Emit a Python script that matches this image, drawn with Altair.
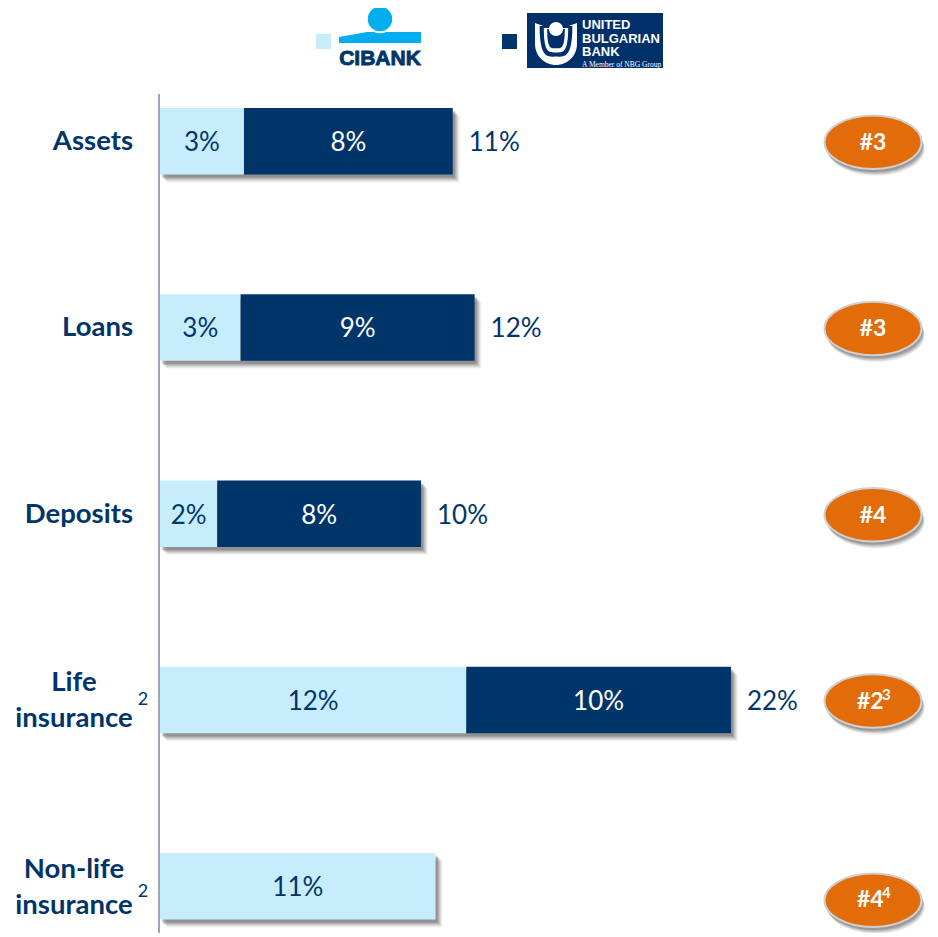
import altair as alt
import pandas as pd

categories = ["Assets", "Loans", "Deposits", "Life insurance", "Non-life insurance"]
cibank_values = [3.23, 3.1, 2.2, 11.78, 10.6]
ubb_values = [8.03, 9.0, 7.84, 10.18, 0.0]
cibank_labels = ["3%", "3%", "2%", "12%", "11%"]
ubb_labels = ["8%", "9%", "8%", "10%", ""]
total_labels = ["11%", "12%", "10%", "22%", ""]
ranks = ["#3", "#3", "#4", "#2", "#4"]
rank_notes = ["", "", "", "3", "4"]

LIGHT = "#C7EDFD"
DARK = "#00356A"
NAVY = "#00306A"
ORANGE = "#E36C0A"
SKY = "#00AEEF"
FONT = "Lato"

W, H = 922, 925
df = pd.DataFrame({
    "cat": categories,
    "a": cibank_values,
    "b": ubb_values,
    "la": cibank_labels,
    "lb": ubb_labels,
    "lt": total_labels,
    "rank": ranks,
    "note": rank_notes,
})
df["end"] = df["a"] + df["b"]
df["zero"] = 0.0
df["ma"] = df["a"] / 2
df["mb"] = df["a"] + df["b"] / 2
two = df[df["b"] > 0]

x_domain = [-152 / 26, (W - 152) / 26]


def x_scale(shift=0):
    return alt.Scale(domain=x_domain, range=[shift, W + shift], nice=False, zero=False)


def y_scale(shift=0):
    return alt.Scale(
        type="band", domain=categories, range=[100 + shift, 911.5 + shift],
        paddingInner=0.643, paddingOuter=0,
    )


X = lambda f, s=0: alt.X(f, type="quantitative", scale=x_scale(s), axis=None)
Y = alt.Y("cat:N", scale=y_scale(), axis=None, sort=categories)
one = pd.DataFrame({"k": [0]})


def deco(**mark):
    return alt.Chart(one).mark_point(filled=True, opacity=1, **mark)


def cup(w, t, b):
    return (
        f"M{-w},{t} C{-w},{b + 0.1} {-w * 0.5},{b} 0,{b} "
        f"C{w * 0.5},{b} {w},{b + 0.1} {w},{t} Z"
    )


layers = []
# bar shadows: same data, scales shifted a few pixels
for off, op in [(8, 0.06), (7, 0.09), (6, 0.12), (5, 0.16), (4, 0.2), (3, 0.26)]:
    layers.append(
        alt.Chart(df).mark_bar(color="#505050", opacity=op).encode(
            x=X("zero", off - 1), x2=alt.X2("end"),
            y=alt.Y("cat:N", scale=y_scale(off), axis=None, sort=categories),
        )
    )
layers += [
    alt.Chart(df).mark_bar(color=LIGHT).encode(x=X("zero"), x2=alt.X2("a"), y=Y),
    alt.Chart(two).mark_bar(color=DARK).encode(x=X("a"), x2=alt.X2("end"), y=Y),
    alt.Chart(df).mark_text(color=DARK, font=FONT, fontSize=26, dy=2).encode(x=X("ma"), y=Y, text="la:N"),
    alt.Chart(two).mark_text(color="white", font=FONT, fontSize=26, dy=2).encode(x=X("mb"), y=Y, text="lb:N"),
    alt.Chart(two).mark_text(color=DARK, font=FONT, fontSize=26, align="left", dx=16, dy=2).encode(
        x=X("end"), y=Y, text="lt:N"
    ),
]

# vertical axis line
layers.append(
    alt.Chart(one).mark_rule(color="#A3A3AD", strokeWidth=2).encode(
        x=alt.value(151), y=alt.value(86), y2=alt.value(925)
    )
)

# category labels
single = df.iloc[:3]
double = df.iloc[3:].assign(t=["Life\ninsurance", "Non-life\ninsurance"], s="2")
layers += [
    alt.Chart(single).mark_text(
        color=DARK, font=FONT, fontWeight="bold", fontSize=27.5, align="right", dy=1
    ).encode(x=alt.value(125), y=Y, text="cat:N"),
    alt.Chart(double.iloc[:1]).mark_text(
        color=DARK, font=FONT, fontWeight="bold", fontSize=27.5, align="center",
        lineBreak="\n", lineHeight=36, dy=-17
    ).encode(x=alt.value(66), y=Y, text="t:N"),
    alt.Chart(double.iloc[1:]).mark_text(
        color=DARK, font=FONT, fontWeight="bold", fontSize=27.5, align="center",
        lineBreak="\n", lineHeight=36, dy=-16
    ).encode(x=alt.value(66), y=Y, text="t:N"),
    alt.Chart(double.iloc[:1]).mark_text(color=DARK, font=FONT, fontSize=18).encode(
        x=alt.value(135), y=Y, text="s:N"
    ),
    alt.Chart(double.iloc[1:]).mark_text(color=DARK, font=FONT, fontSize=18, dy=6).encode(
        x=alt.value(135), y=Y, text="s:N"
    ),
]

# rank ovals
OVAL = "M-1,0 A1,0.55 0 1,1 1,0 A1,0.55 0 1,1 -1,0 Z"
upper, lower = df.iloc[:4], df.iloc[4:]
for part, base in [(upper, 1), (lower, 14)]:
    for off, op in [(7, 0.08), (6, 0.12), (5, 0.16), (4, 0.2), (3, 0.25)]:
        layers.append(
            alt.Chart(part).mark_point(
                shape=OVAL, size=9409, filled=True, color="#555555", opacity=op,
                xOffset=off // 2, yOffset=off + base
            ).encode(x=alt.value(865), y=Y)
        )
    layers.append(
        alt.Chart(part).mark_point(
            shape=OVAL, size=9409, filled=True, fill=ORANGE, stroke="#D0D0D0", strokeWidth=2,
            opacity=1, yOffset=base
        ).encode(x=alt.value(865), y=Y)
    )

plain = df[df["note"] == ""]
noted = df[df["note"] != ""]
layers.append(
    alt.Chart(plain).mark_text(color="white", font=FONT, fontWeight="bold", fontSize=23, dy=2).encode(
        x=alt.value(865), y=Y, text="rank:N"
    )
)
for part, base in [(noted.iloc[:1], 2), (noted.iloc[1:], 14)]:
    layers += [
        alt.Chart(part).mark_text(
            color="white", font=FONT, fontWeight="bold", fontSize=23, align="left", dy=base
        ).encode(x=alt.value(849), y=Y, text="rank:N"),
        alt.Chart(part).mark_text(
            color="white", font=FONT, fontWeight="bold", fontSize=15, align="left", dy=base - 7
        ).encode(x=alt.value(874), y=Y, text="note:N"),
    ]

# legend swatches
for px, col in [(308, LIGHT), (494, DARK)]:
    layers.append(
        alt.Chart(one).mark_rect(color=col).encode(
            x=alt.value(px), x2=alt.value(px + 15), y=alt.value(26), y2=alt.value(41)
        )
    )

# CIBANK logo
BAND = "M-1,-0.024 L-0.317,-0.146 L1,-0.146 L1,0.122 L-1,0.122 Z"
layers += [
    deco(shape=BAND, size=6724, color=SKY, strokeWidth=0).encode(x=alt.value(372), y=alt.value(30)),
    deco(shape="circle", size=700, fill=SKY, stroke="white", strokeWidth=2).encode(
        x=alt.value(372), y=alt.value(11)
    ),
    alt.Chart(one).mark_text(
        text="CIBANK", color=DARK, font="Liberation Sans", fontWeight="bold", fontSize=21,
        align="center", stroke=DARK, strokeWidth=0.9
    ).encode(x=alt.value(372), y=alt.value(51)),
]

# UBB logo
layers.append(
    alt.Chart(one).mark_rect(color=NAVY).encode(
        x=alt.value(519), x2=alt.value(655), y=alt.value(5), y2=alt.value(60)
    )
)
U_OUT = "M-1,-1 L-0.45,-0.8 L0.45,-0.8 L1,-1 L1,0 C1,0.6 0.5,1 0,1 C-0.5,1 -1,0.6 -1,0 Z"
for shape, col in [
    (U_OUT, "white"),
    (cup(0.78, -0.86, 0.6), NAVY),
    (cup(0.58, -0.76, 0.4), "white"),
    (cup(0.42, -0.72, 0.2), NAVY),
]:
    layers.append(
        deco(shape=shape, size=1764, color=col, strokeWidth=0).encode(x=alt.value(548), y=alt.value(36))
    )
layers.append(
    deco(shape="circle", size=200, color="white", strokeWidth=0).encode(x=alt.value(548), y=alt.value(21))
)
for i, t in enumerate(["UNITED", "BULGARIAN", "BANK"]):
    layers.append(
        alt.Chart(one).mark_text(
            text=t, color="white", font="Liberation Sans", fontWeight="bold", fontSize=13, align="left"
        ).encode(x=alt.value(574), y=alt.value(17 + 13.5 * i))
    )
layers.append(
    alt.Chart(one).mark_text(
        text="A Member of NBG Group", color="white", font="Liberation Serif", fontSize=7.5, align="left"
    ).encode(x=alt.value(574), y=alt.value(57))
)

chart = alt.layer(*layers).resolve_scale(x="independent", y="independent").properties(
    width=W, height=H, padding=0, autosize=alt.AutoSizeParams(type="none")
).configure_view(stroke=None)

chart.save("out.html", embed_options={"renderer": "svg", "actions": False})
